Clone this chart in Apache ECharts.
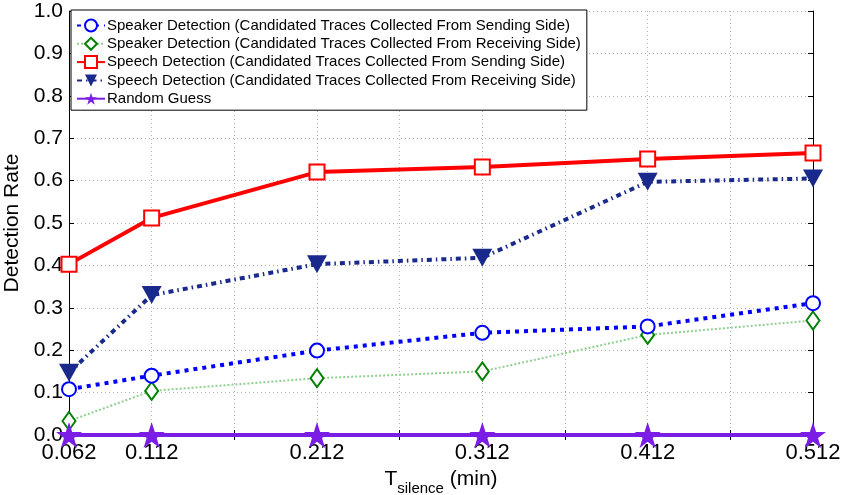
<!DOCTYPE html>
<html>
<head>
<meta charset="utf-8">
<script src="https://cdn.jsdelivr.net/npm/echarts@6/dist/echarts.min.js"></script>
<style>
  html, body { margin: 0; padding: 0; background: #fff; }
  #chart { width: 845px; height: 495px; }
</style>
</head>
<body>
<div id="chart"></div>
<script>
// T_silence values (min)
var xValues = [0.062, 0.112, 0.212, 0.312, 0.412, 0.512];
var xTickLabels = ['0.062', '0.112', '0.212', '0.312', '0.412', '0.512'];

// detection rates
var speakerSending   = [0.108, 0.140, 0.199, 0.241, 0.256, 0.311];
var speakerReceiving = [0.033, 0.104, 0.134, 0.150, 0.236, 0.270];
var speechSending    = [0.403, 0.512, 0.620, 0.632, 0.651, 0.665];
var speechReceiving  = [0.147, 0.330, 0.403, 0.418, 0.597, 0.605];
var randomGuess      = [0, 0, 0, 0, 0, 0];

var seriesNames = [
    'Speaker Detection (Candidated Traces Collected From Sending Side)',
    'Speaker Detection (Candidated Traces Collected From Receiving Side)',
    'Speech Detection (Candidated Traces Collected From Sending Side)',
    'Speech Detection (Candidated Traces Collected From Receiving Side)',
    'Random Guess'
];

var FONT = 'Liberation Sans, Arial, Helvetica, sans-serif';
var triDown = 'path://M0,0 L10,0 L5,9 Z';
var star = 'path://M50,0 L61.8,35.3 L98.6,35.3 L68.8,57.1 L80.2,92.4 L50,70.6 L19.8,92.4 L31.2,57.1 L1.4,35.3 L38.2,35.3 Z';

function pairs(ys) {
    return xValues.map(function (x, i) { return [x, ys[i]]; });
}

var chart = echarts.init(document.getElementById('chart'));

var gridLine = { show: true, lineStyle: { color: '#b0b0b0', type: [1, 3], width: 1 } };
var boxTick = { show: true, inside: true, length: 5, lineStyle: { color: '#000' } };

chart.setOption({
    animation: false,
    textStyle: { fontFamily: FONT },
    grid: { left: 69, right: 32, top: 11, bottom: 60, outerBoundsMode: 'none', containLabel: false },
    legend: {
        orient: 'vertical',
        left: 71,
        top: 10,
        padding: [8, 6, 4, 5],
        itemGap: 3.3,
        itemWidth: 28,
        itemHeight: 15,
        backgroundColor: '#fff',
        borderColor: '#000',
        borderWidth: 1,
        borderRadius: 0,
        textStyle: { fontSize: 15, color: '#000', fontFamily: FONT, padding: [0, 0, 0, -3] },
        data: seriesNames
    },
    xAxis: [{
        type: 'value',
        min: 0.062,
        max: 0.512,
        interval: 0.05,
        axisLine: { show: true, onZero: false, lineStyle: { color: '#000', width: 1 } },
        axisTick: boxTick,
        splitLine: gridLine,
        axisLabel: {
            fontSize: 22, color: '#000', margin: 7,
            formatter: function (v) {
                var s = v.toFixed(3);
                return xTickLabels.indexOf(s) >= 0 ? s : '';
            }
        },
        name: '{t|T}{s|silence}{m| (min)}',
        nameLocation: 'middle',
        nameGap: 29,
        nameTextStyle: {
            color: '#000',
            rich: {
                t: { fontSize: 21, fontFamily: FONT, color: '#000', verticalAlign: 'top' },
                s: { fontSize: 15, fontFamily: FONT, color: '#000', verticalAlign: 'bottom', padding: [12, 0, 0, 0] },
                m: { fontSize: 21, fontFamily: FONT, color: '#000', verticalAlign: 'top' }
            }
        }
    }, {
        type: 'value',
        position: 'top',
        min: 0.062,
        max: 0.512,
        interval: 0.05,
        axisLine: { show: true, lineStyle: { color: '#000', width: 1 } },
        axisTick: boxTick,
        axisLabel: { show: false },
        splitLine: { show: false }
    }],
    yAxis: [{
        type: 'value',
        min: 0,
        max: 1,
        interval: 0.1,
        axisLine: { show: true, lineStyle: { color: '#000', width: 1 } },
        axisTick: boxTick,
        splitLine: gridLine,
        axisLabel: {
            fontSize: 21, color: '#000', margin: 6,
            formatter: function (v) { return v.toFixed(1); }
        },
        name: 'Detection Rate',
        nameLocation: 'middle',
        nameGap: 33,
        nameTextStyle: { fontSize: 21, color: '#000', fontFamily: FONT }
    }, {
        type: 'value',
        position: 'right',
        min: 0,
        max: 1,
        interval: 0.1,
        axisLine: { show: true, lineStyle: { color: '#000', width: 1 } },
        axisTick: boxTick,
        axisLabel: { show: false },
        splitLine: { show: false }
    }],
    series: [
        {
            name: seriesNames[0],
            type: 'line',
            data: pairs(speakerSending),
            clip: false,
            z: 4,
            symbol: 'emptyCircle',
            symbolSize: 14,
            itemStyle: { color: '#0000ff', borderWidth: 3.5 },
            lineStyle: { color: '#0000ff', width: 4, type: [4, 5] }
        },
        {
            name: seriesNames[1],
            type: 'line',
            data: pairs(speakerReceiving),
            clip: false,
            z: 3,
            symbol: 'emptyDiamond',
            symbolSize: [13, 18],
            itemStyle: { color: '#008000', borderWidth: 3.5 },
            lineStyle: { color: '#8fcf8f', width: 2, type: [2, 2] }
        },
        {
            name: seriesNames[2],
            type: 'line',
            data: pairs(speechSending),
            clip: false,
            z: 5,
            symbol: 'emptyRect',
            symbolSize: 15,
            itemStyle: { color: '#ff0000', borderWidth: 5 },
            lineStyle: { color: '#ff0000', width: 4 }
        },
        {
            name: seriesNames[3],
            type: 'line',
            data: pairs(speechReceiving),
            clip: false,
            z: 4,
            symbol: triDown,
            symbolSize: [20, 18],
            itemStyle: { color: '#1a2a8c', borderWidth: 0 },
            lineStyle: { color: '#1a2a8c', width: 4, type: [5, 4, 1.5, 4] }
        },
        {
            name: seriesNames[4],
            type: 'line',
            data: pairs(randomGuess),
            clip: false,
            z: 6,
            symbol: star,
            symbolSize: 26,
            itemStyle: { color: '#7a1ee6', borderWidth: 0 },
            lineStyle: { color: '#7a1ee6', width: 4 }
        }
    ]
});
</script>
</body>
</html>
